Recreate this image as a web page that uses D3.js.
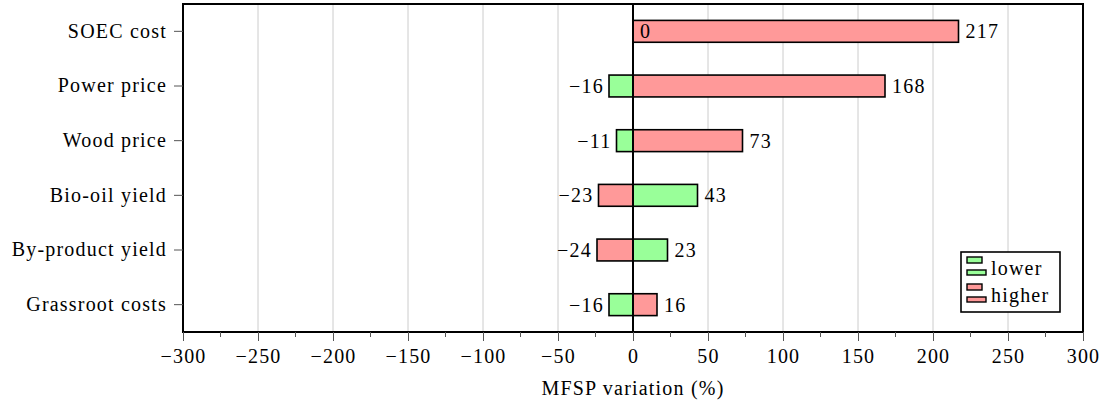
<!DOCTYPE html>
<html>
<head>
<meta charset="utf-8">
<script src="https://cdn.jsdelivr.net/npm/d3@7"></script>
<style>
  html, body { margin: 0; padding: 0; background: #fff; }
  svg { display: block; }
</style>
</head>
<body>
<svg id="chart"></svg>
<script>
const categories = ['SOEC cost', 'Power price', 'Wood price', 'Bio-oil yield', 'By-product yield', 'Grassroot costs'];
const lowerValues = [0, -16, -11, 43, 23, -16];
const higherValues = [217, 168, 73, -23, -24, 16];
const xTicks = [-300, -250, -200, -150, -100, -50, 0, 50, 100, 150, 200, 250, 300];
const seriesNames = ['lower', 'higher'];

const width = 1104;
const height = 403;
const margin = { top: 4, right: 21, bottom: 71, left: 183 };
const fontFamily = '"Liberation Serif", "Times New Roman", serif';
const fontSize = '20px';
const spacing = '1.2px';
const green = '#99ff99';
const red = '#ff9999';

const fmt = d => d < 0 ? '\u2212' + Math.abs(d) : String(d);

const svg = d3.select('#chart')
  .attr('width', width)
  .attr('height', height)
  .attr('viewBox', `0 0 ${width} ${height}`);

const x = d3.scaleLinear()
  .domain([-300, 300])
  .range([margin.left, width - margin.right]);

const y = d3.scaleBand()
  .domain(categories)
  .range([margin.top, height - margin.bottom])
  .paddingInner(0.6)
  .paddingOuter(0.3);

const plotTop = margin.top;
const plotBottom = height - margin.bottom;

function styleText(sel) {
  sel.attr('font-family', fontFamily)
    .attr('font-size', fontSize)
    .attr('letter-spacing', spacing)
    .attr('fill', '#000');
}

// grid
svg.append('g')
  .selectAll('line')
  .data(xTicks.filter(d => d !== 0 && Math.abs(d) !== 300))
  .join('line')
  .attr('x1', d => x(d))
  .attr('x2', d => x(d))
  .attr('y1', plotTop)
  .attr('y2', plotBottom)
  .attr('stroke', '#cccccc')
  .attr('stroke-width', 1);

const series = [
  { name: seriesNames[0], values: lowerValues, color: green },
  { name: seriesNames[1], values: higherValues, color: red },
];

// bars
series.forEach(s => {
  const data = categories.map((c, i) => ({ cat: c, v: s.values[i] }));
  svg.append('g')
    .selectAll('rect')
    .data(data.filter(d => d.v !== 0))
    .join('rect')
    .attr('x', d => x(Math.min(0, d.v)))
    .attr('width', d => Math.abs(x(d.v) - x(0)))
    .attr('y', d => y(d.cat))
    .attr('height', y.bandwidth())
    .attr('fill', s.color)
    .attr('stroke', '#000')
    .attr('stroke-width', 1.6);
});

// zero line
svg.append('line')
  .attr('x1', x(0))
  .attr('x2', x(0))
  .attr('y1', plotTop)
  .attr('y2', plotBottom)
  .attr('stroke', '#000')
  .attr('stroke-width', 2);

// value labels
series.forEach(s => {
  const data = categories.map((c, i) => ({ cat: c, v: s.values[i] }));
  svg.append('g')
    .selectAll('text')
    .data(data)
    .join('text')
    .attr('x', d => d.v < 0 ? x(d.v) - 5 : x(d.v) + 7)
    .attr('y', d => y(d.cat) + y.bandwidth() / 2)
    .attr('dy', '0.35em')
    .attr('text-anchor', d => d.v < 0 ? 'end' : 'start')
    .call(styleText)
    .text(d => fmt(d.v));
});

// frame
svg.append('rect')
  .attr('x', x(-300))
  .attr('y', plotTop)
  .attr('width', x(300) - x(-300))
  .attr('height', plotBottom - plotTop)
  .attr('fill', 'none')
  .attr('stroke', '#000')
  .attr('stroke-width', 2);

// x axis
const xAxis = d3.axisBottom(x)
  .tickValues(xTicks)
  .tickSize(9)
  .tickSizeOuter(0)
  .tickPadding(8)
  .tickFormat(fmt);

const axisG = svg.append('g')
  .attr('transform', `translate(0,${plotBottom})`)
  .call(xAxis);
axisG.select('.domain').remove();
axisG.selectAll('.tick line').attr('stroke', '#555').attr('stroke-width', 1);
axisG.selectAll('.tick text').call(styleText);

// minor ticks
svg.append('g')
  .selectAll('line')
  .data(d3.range(-275, 300, 50))
  .join('line')
  .attr('x1', d => x(d))
  .attr('x2', d => x(d))
  .attr('y1', plotBottom)
  .attr('y2', plotBottom + 5)
  .attr('stroke', '#555')
  .attr('stroke-width', 1);

// y axis
const yAxis = d3.axisLeft(y)
  .tickSize(9)
  .tickSizeOuter(0)
  .tickPadding(7);

const yAxisG = svg.append('g')
  .attr('transform', `translate(${margin.left},0)`)
  .call(yAxis);
yAxisG.select('.domain').remove();
yAxisG.selectAll('.tick line').attr('stroke', '#555').attr('stroke-width', 1);
yAxisG.selectAll('.tick text').call(styleText);

// axis title
svg.append('text')
  .attr('x', x(0))
  .attr('y', 395)
  .attr('text-anchor', 'middle')
  .call(styleText)
  .text('MFSP variation (%)');

// legend
const legend = svg.append('g').attr('transform', 'translate(961,252)');
legend.append('rect')
  .attr('width', 99)
  .attr('height', 60)
  .attr('fill', '#fff')
  .attr('stroke', '#000')
  .attr('stroke-width', 1.6);

series.forEach((s, i) => {
  const g = legend.append('g').attr('transform', `translate(0,${i * 27})`);
  g.append('rect')
    .attr('x', 6).attr('y', 5).attr('width', 15).attr('height', 6)
    .attr('fill', s.color).attr('stroke', '#000').attr('stroke-width', 1.4);
  g.append('rect')
    .attr('x', 6).attr('y', 18).attr('width', 19).attr('height', 5)
    .attr('fill', s.color).attr('stroke', '#000').attr('stroke-width', 1.4);
  g.append('text')
    .attr('x', 30)
    .attr('y', 23)
    .call(styleText)
    .text(s.name);
});
</script>
</body>
</html>
